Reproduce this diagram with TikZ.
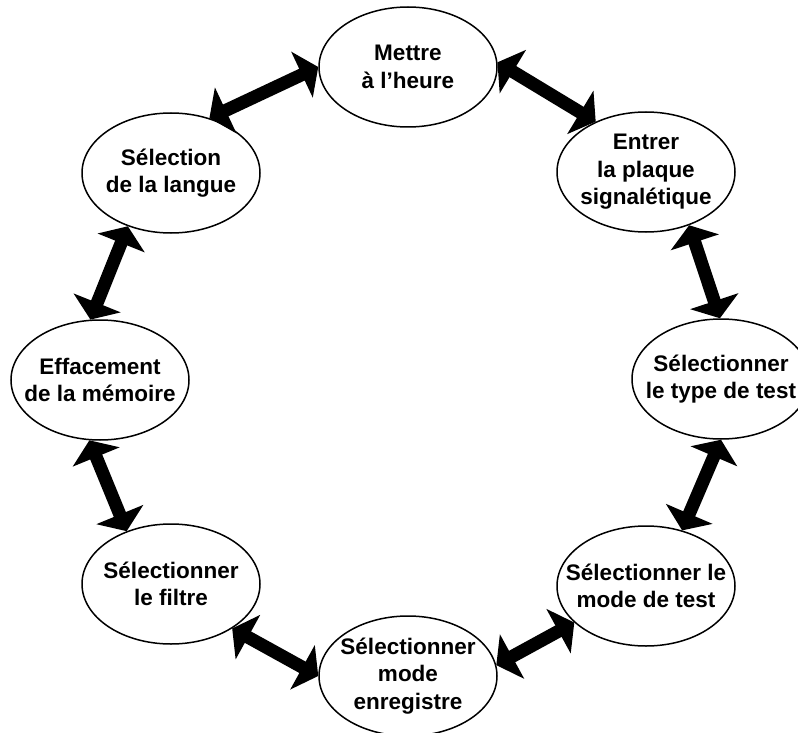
\documentclass[tikz,border=0pt]{standalone}
\usepackage{fontspec}
\setmainfont{Liberation Sans}
\usepackage{tikz}
\usetikzlibrary{arrows.meta,shapes.geometric}

\begin{document}
\begin{tikzpicture}[x=1pt, y=-1pt, >={Triangle[length=18pt,width=50pt]},
  etape/.style={draw, ellipse, line width=1.5pt, minimum width=178pt,
    minimum height=120pt, inner xsep=-40pt, inner ysep=-20pt, align=center,
    font=\bfseries\fontsize{22.5}{27.5}\selectfont},
  fleche/.style={<->, line width=13pt}]
  \useasboundingbox (0,0) rectangle (798,733);
  \node[etape] (heure) at (408,67) {Mettre\\à l’heure};
  \node[etape] (plaque) at (646,172) {Entrer\\la plaque\\signalétique};
  \node[etape] (type) at (721,379) {Sélectionner\\le type de test};
  \node[etape] (mode) at (646,586) {Sélectionner le\\mode de test};
  \node[etape] (enreg) at (408,676) {Sélectionner\\mode\\enregistre};
  \node[etape] (filtre) at (171,584) {Sélectionner\\le filtre};
  \node[etape] (memoire) at (100,380) {Effacement\\de la mémoire};
  \node[etape] (langue) at (171,173) {Sélection\\de la langue};
  \draw[fleche] (heure.3) -- (plaque.135); \draw[fleche] (plaque.-51) --
  (type.91); \draw[fleche] (type.-90) -- (mode.57); \draw[fleche] (mode.207)
  -- (enreg.7); \draw[fleche] (enreg.180) -- (filtre.-36); \draw[fleche]
  (filtre.130) -- (memoire.-100); \draw[fleche] (memoire.99) --
  (langue.231); \draw[fleche] (langue.55) -- (heure.180);
\end{tikzpicture}
\end{document}
